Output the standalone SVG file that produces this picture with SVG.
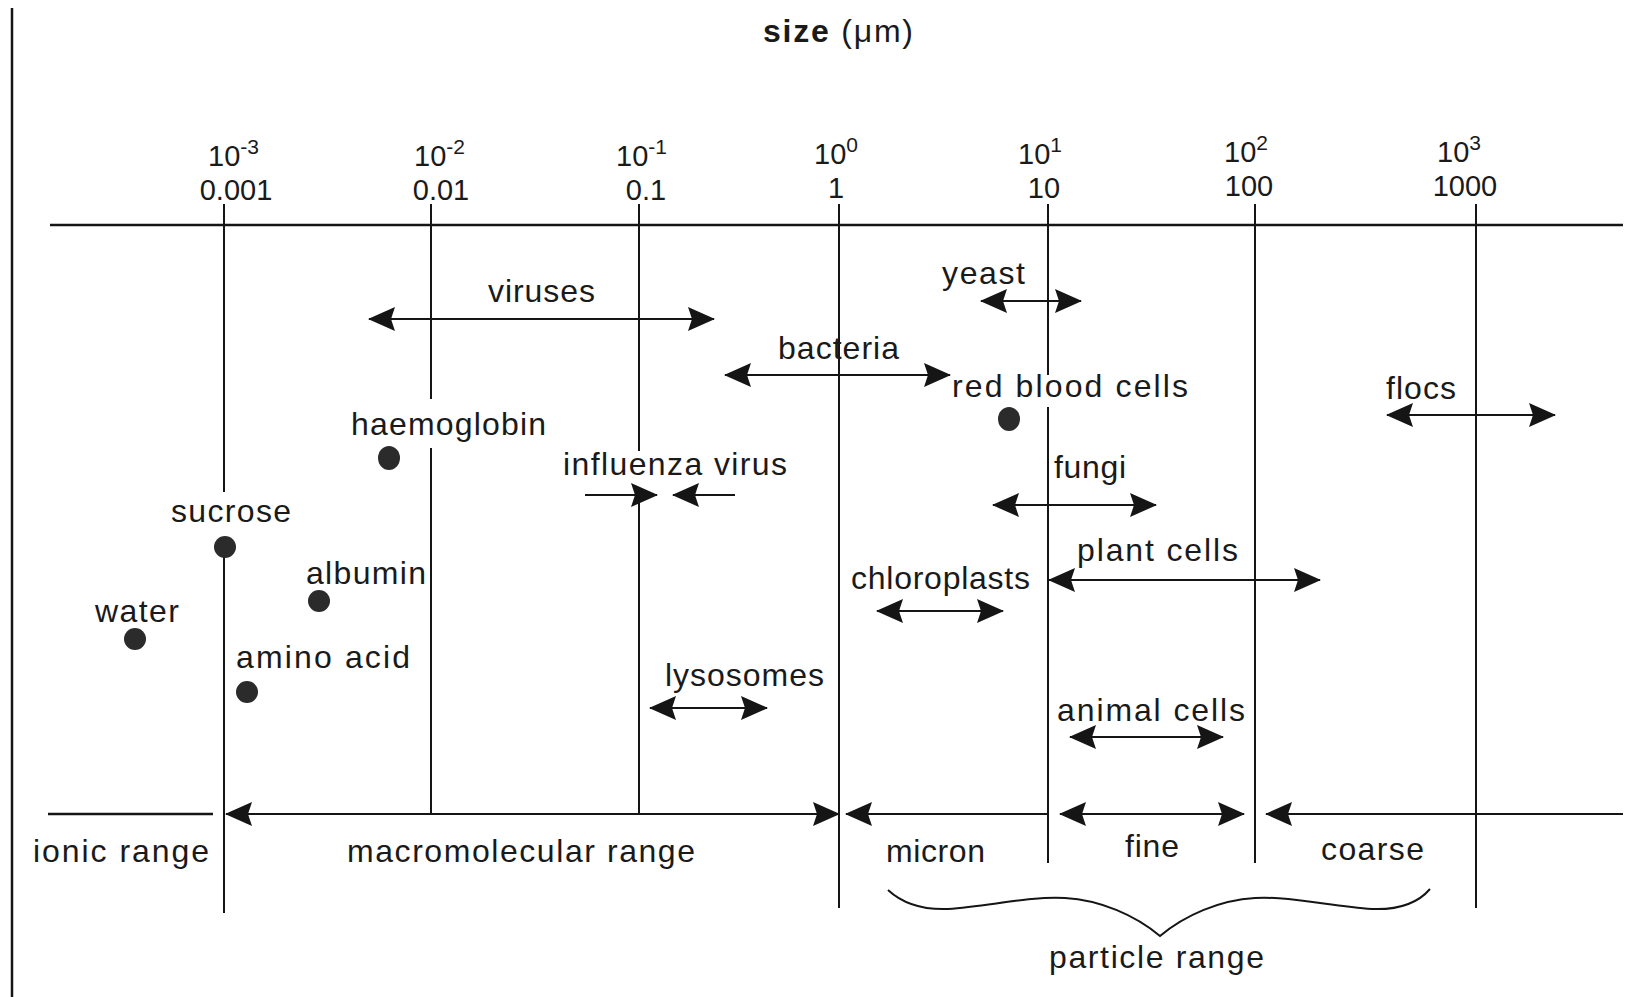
<svg xmlns="http://www.w3.org/2000/svg" width="1645" height="997" viewBox="0 0 1645 997">
<style>
text{font-family:"Liberation Sans",Arial,sans-serif;font-size:32px;fill:#1a1a1a}
.b{font-weight:bold}
.tk{font-size:29px}
.ln{stroke:#151515;stroke-width:2;fill:none}
.ax{stroke:#151515;stroke-width:2.5;fill:none}
.ar{stroke:#151515;stroke-width:2.2;fill:none;marker-start:url(#ah);marker-end:url(#ah)}
.arE{stroke:#151515;stroke-width:2.2;fill:none;marker-end:url(#ah)}
.arS{stroke:#151515;stroke-width:2.2;fill:none;marker-start:url(#ah)}
.dot{fill:#2b2b2b}
.sup{font-size:21px}
.mid{text-anchor:middle}
</style>
<defs>
<marker id="ah" viewBox="0 0 27 24" refX="26" refY="12" markerWidth="27" markerHeight="24" markerUnits="userSpaceOnUse" orient="auto-start-reverse">
<path d="M0,0 L27,12 L0,24 L4,12 Z" fill="#151515"/>
</marker>
</defs>
<rect width="1645" height="997" fill="#ffffff"/>

<g id="frame">
<line class="ax" x1="12" y1="8" x2="12" y2="997"/>
</g>

<g id="title">
<text x="763" y="42" textLength="150" lengthAdjust="spacing" font-size="30"><tspan class="b">size</tspan> (μm)</text>
</g>

<g id="scale">
<line class="ax" x1="50" y1="225" x2="1623" y2="225"/>
<text class="tk" x="208" y="166">10<tspan class="sup" dy="-12">-3</tspan></text>
<text class="tk mid" x="236" y="200">0.001</text>
<text class="tk" x="414" y="166">10<tspan class="sup" dy="-12">-2</tspan></text>
<text class="tk mid" x="441" y="200">0.01</text>
<text class="tk" x="616" y="166">10<tspan class="sup" dy="-12">-1</tspan></text>
<text class="tk mid" x="646" y="200">0.1</text>
<text class="tk" x="814" y="164">10<tspan class="sup" dy="-12">0</tspan></text>
<text class="tk mid" x="836" y="198">1</text>
<text class="tk" x="1018" y="164">10<tspan class="sup" dy="-12">1</tspan></text>
<text class="tk mid" x="1044" y="198">10</text>
<text class="tk" x="1224" y="162">10<tspan class="sup" dy="-12">2</tspan></text>
<text class="tk mid" x="1249" y="196">100</text>
<text class="tk" x="1437" y="162">10<tspan class="sup" dy="-12">3</tspan></text>
<text class="tk mid" x="1465" y="196">1000</text>
</g>

<g id="gridlines">
<line class="ln" x1="224" y1="204" x2="224" y2="492"/>
<line class="ln" x1="224" y1="547" x2="224" y2="913"/>
<line class="ln" x1="431" y1="204" x2="431" y2="399"/>
<line class="ln" x1="431" y1="448" x2="431" y2="814"/>
<line class="ln" x1="639" y1="204" x2="639" y2="451"/>
<line class="ln" x1="639" y1="494" x2="639" y2="814"/>
<line class="ln" x1="839" y1="204" x2="839" y2="908"/>
<line class="ln" x1="1048" y1="204" x2="1048" y2="375"/>
<line class="ln" x1="1048" y1="407" x2="1048" y2="863"/>
<line class="ln" x1="1255" y1="204" x2="1255" y2="863"/>
<line class="ln" x1="1476" y1="204" x2="1476" y2="908"/>
</g>

<g id="connectors">
<line class="ar" x1="369" y1="319" x2="714" y2="319"/>
<line class="ar" x1="981" y1="301" x2="1081" y2="301"/>
<line class="ar" x1="725" y1="375" x2="950" y2="375"/>
<line class="ar" x1="1387" y1="415" x2="1555" y2="415"/>
<line class="arE" x1="585" y1="495" x2="657" y2="495"/>
<line class="arE" x1="735" y1="495" x2="673" y2="495"/>
<line class="ar" x1="993" y1="505" x2="1156" y2="505"/>
<line class="ar" x1="1049" y1="580" x2="1320" y2="580"/>
<line class="ar" x1="877" y1="611" x2="1003" y2="611"/>
<line class="ar" x1="650" y1="708" x2="767" y2="708"/>
<line class="ar" x1="1070" y1="737" x2="1223" y2="737"/>
</g>

<g id="ranges">
<line class="ax" x1="48" y1="814" x2="213" y2="814"/>
<line class="ar" x1="226" y1="814" x2="839" y2="814"/>
<line class="arS" x1="846" y1="814" x2="1048" y2="814"/>
<line class="ar" x1="1060" y1="814" x2="1244" y2="814"/>
<line class="arS" x1="1266" y1="814" x2="1623" y2="814"/>
<path class="ln" d="M888,890 C902,903 922,910 948,909 C990,906 1030,896 1065,898 C1100,900 1135,915 1160,936 C1185,915 1220,900 1255,898 C1290,896 1330,906 1372,909 C1398,910 1418,903 1430,889"/>
</g>

<g id="viruses"><text x="488" y="302" textLength="107" lengthAdjust="spacing">viruses</text></g>
<g id="yeast"><text x="942" y="284" textLength="83" lengthAdjust="spacing">yeast</text></g>
<g id="bacteria"><text x="778" y="359" textLength="121" lengthAdjust="spacing">bacteria</text></g>
<g id="red-blood-cells"><text x="952" y="397" textLength="236" lengthAdjust="spacing">red blood cells</text><ellipse class="dot" cx="1009" cy="419" rx="11" ry="12"/></g>
<g id="flocs"><text x="1386" y="399" textLength="70" lengthAdjust="spacing">flocs</text></g>
<g id="haemoglobin"><text x="351" y="435" textLength="195" lengthAdjust="spacing">haemoglobin</text><ellipse class="dot" cx="389" cy="458" rx="11" ry="12"/></g>
<g id="influenza-virus"><text x="563" y="475" textLength="224" lengthAdjust="spacing">influenza virus</text></g>
<g id="fungi"><text x="1054" y="478" textLength="72" lengthAdjust="spacing">fungi</text></g>
<g id="sucrose"><text x="171" y="522" textLength="120" lengthAdjust="spacing">sucrose</text><ellipse class="dot" cx="225" cy="547" rx="11" ry="11"/></g>
<g id="plant-cells"><text x="1077" y="561" textLength="161" lengthAdjust="spacing">plant cells</text></g>
<g id="chloroplasts"><text x="851" y="589" textLength="179" lengthAdjust="spacing">chloroplasts</text></g>
<g id="albumin"><text x="306" y="584" textLength="120" lengthAdjust="spacing">albumin</text><ellipse class="dot" cx="319" cy="601" rx="11" ry="11"/></g>
<g id="water"><text x="95" y="622" textLength="84" lengthAdjust="spacing">water</text><ellipse class="dot" cx="135" cy="639" rx="11" ry="11"/></g>
<g id="amino-acid"><text x="236" y="668" textLength="174" lengthAdjust="spacing">amino acid</text><ellipse class="dot" cx="247" cy="692" rx="11" ry="11"/></g>
<g id="lysosomes"><text x="665" y="686" textLength="159" lengthAdjust="spacing">lysosomes</text></g>
<g id="animal-cells"><text x="1057" y="721" textLength="188" lengthAdjust="spacing">animal cells</text></g>

<g id="ionic-range"><text x="33" y="862" textLength="176" lengthAdjust="spacing">ionic range</text></g>
<g id="macromolecular-range"><text x="347" y="862" textLength="348" lengthAdjust="spacing">macromolecular range</text></g>
<g id="micron"><text x="886" y="862" textLength="99" lengthAdjust="spacing">micron</text></g>
<g id="fine"><text x="1125" y="857" textLength="54" lengthAdjust="spacing">fine</text></g>
<g id="coarse"><text x="1321" y="860" textLength="103" lengthAdjust="spacing">coarse</text></g>
<g id="particle-range"><text x="1049" y="968" textLength="215" lengthAdjust="spacing">particle range</text></g>
</svg>
